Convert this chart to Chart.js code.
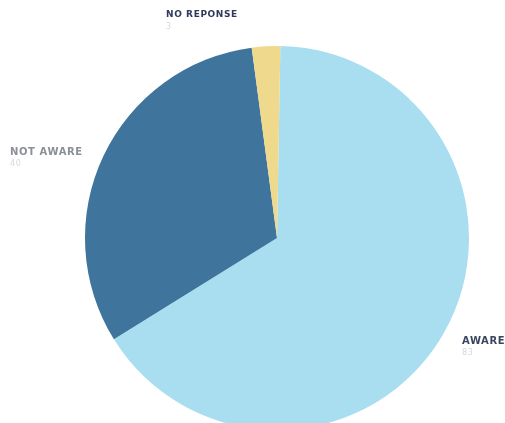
<!DOCTYPE html>
<html>
<head>
<meta charset="utf-8">
<script src="https://cdn.jsdelivr.net/npm/chart.js@4"></script>
<style>
  html, body { margin: 0; padding: 0; background: #fff; overflow: hidden; }
  #wrap { width: 505px; height: 423px; position: relative; }
</style>
</head>
<body>
<div id="wrap"><canvas id="pieChart"></canvas></div>
<script>
const answerLabels = ["AWARE", "NOT AWARE", "NO REPONSE"];
const answerCounts = [83, 40, 3];
const sliceColors = ["#a9def0", "#3f749c", "#efd98c"];

// where each label sits (text anchor), plus colours of the caption
const labelSpots = [
  { x: 462, y: 341, size: 10, color: "#3a4660" },
  { x: 10, y: 152, size: 10, color: "#8a8f98" },
  { x: 166, y: 15, size: 9, color: "#2f3a5a" }
];

// draws the category name with the count under it, faint
const outsideLabels = {
  id: "outsideLabels",
  afterDraw(chart) {
    const ctx = chart.ctx;
    ctx.save();
    answerLabels.forEach((name, i) => {
      const spot = labelSpots[i];
      ctx.textAlign = "left";
      ctx.textBaseline = "middle";
      ctx.font = "bold " + spot.size + "px 'DejaVu Sans'";
      ctx.fillStyle = spot.color;
      if (ctx.letterSpacing !== undefined) ctx.letterSpacing = "0.6px";
      ctx.fillText(name, spot.x, spot.y);
      ctx.font = "8px 'DejaVu Sans'";
      ctx.fillStyle = "#d6d8e0";
      ctx.fillText(String(answerCounts[i]), spot.x, spot.y + 12);
    });
    ctx.restore();
  }
};

new Chart(document.getElementById("pieChart"), {
  type: "pie",
  data: {
    labels: answerLabels,
    datasets: [{
      data: answerCounts,
      backgroundColor: sliceColors,
      borderWidth: 0,
      clip: false
    }]
  },
  options: {
    responsive: true,
    maintainAspectRatio: false,
    animation: false,
    rotation: 1,
    radius: 192,
    layout: { padding: { left: 49, right: 0, top: 53, bottom: 0 } },
    plugins: {
      legend: { display: false },
      tooltip: { enabled: false }
    }
  },
  plugins: [outsideLabels]
});
</script>
</body>
</html>
